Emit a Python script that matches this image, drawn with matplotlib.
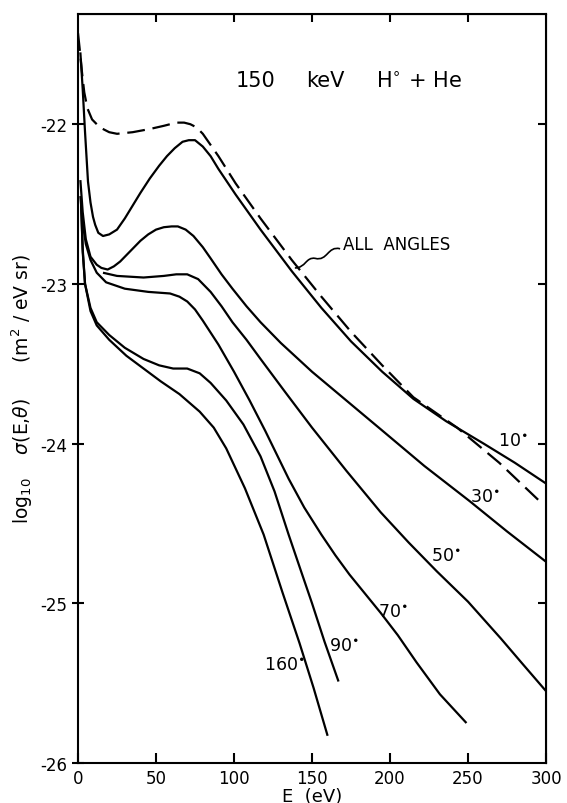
import matplotlib.pyplot as plt
from matplotlib.path import Path
from matplotlib.patches import PathPatch

# 讀圖估計的數值 (E in eV, log10 sigma)
e_all = [0, 1.3, 2.6, 4, 6, 9, 14, 20, 25, 35, 46, 55, 63, 68, 72, 76, 80, 85, 90, 101, 117, 137,
         156, 175, 195, 215, 243, 270, 298]
s_all = [-21.43, -21.55, -21.68, -21.8, -21.9, -21.97, -22.02, -22.05, -22.06, -22.05, -22.03, -22.01,
         -21.99, -21.99, -22.0, -22.02, -22.06, -22.13, -22.2, -22.37, -22.59, -22.85,
         -23.08, -23.3, -23.51, -23.71, -23.9, -24.12, -24.38]

e_10 = [1.5, 3, 4.5, 6.4, 8, 9.6, 11, 13, 16, 20, 25, 30, 35, 40, 46, 52, 57, 62, 67, 71, 75, 80, 85,
        90, 101, 117, 137, 156, 175, 195, 215, 236, 260, 280, 300]
s_10 = [-21.55, -21.78, -22.05, -22.36, -22.49, -22.58, -22.63, -22.68, -22.70, -22.69, -22.66, -22.59,
        -22.51, -22.43, -22.34, -22.26, -22.2, -22.15, -22.11, -22.10, -22.10, -22.14, -22.2,
        -22.28, -22.44, -22.66, -22.92, -23.15, -23.36, -23.55, -23.72, -23.86, -24.0, -24.12, -24.25]

e_30 = [1.5, 3, 5, 8, 12, 15, 19, 23, 27, 31, 35, 40, 45, 50, 55, 60, 64, 69, 74, 80, 85, 92, 99,
        108, 117, 130, 150, 172, 194, 222, 251, 275, 300]
s_30 = [-22.35, -22.55, -22.72, -22.83, -22.88, -22.9, -22.91, -22.89, -22.86, -22.82, -22.78, -22.73,
        -22.69, -22.66, -22.645, -22.64, -22.64, -22.66, -22.70, -22.77, -22.84, -22.94, -23.03,
        -23.14, -23.24, -23.37, -23.55, -23.73, -23.91, -24.14, -24.36, -24.55, -24.74]

e_50 = [16, 25, 42, 55, 63, 70, 77, 85, 92, 99, 108, 117, 133, 150, 172, 194, 212, 230, 250, 271,
        285, 300]
s_50 = [-22.93, -22.95, -22.96, -22.95, -22.94, -22.94, -22.97, -23.05, -23.14, -23.24, -23.35,
        -23.47, -23.68, -23.9, -24.17, -24.43, -24.62, -24.8, -24.99, -25.22, -25.38, -25.55]

e_70 = [1.5, 3, 5, 8, 12, 18, 30, 45, 59, 65, 70, 75, 80, 90, 100, 110, 120, 135, 145, 156, 165,
        174, 184, 194, 205, 217, 232, 249]
s_70 = [-22.45, -22.62, -22.75, -22.85, -22.93, -22.99, -23.03, -23.05, -23.06, -23.08, -23.11,
        -23.16, -23.23, -23.38, -23.55, -23.73, -23.92, -24.22, -24.4, -24.57, -24.7,
        -24.82, -24.94, -25.06, -25.2, -25.37, -25.57, -25.75]

e_90 = [2, 3, 4.5, 8, 12, 20, 30, 42, 52, 61, 70, 78, 85, 95, 106, 117, 126, 135, 143, 150, 158, 167]
s_90 = [-22.5, -22.78, -23.0, -23.15, -23.24, -23.32, -23.4, -23.47, -23.51, -23.53, -23.53,
        -23.56, -23.62, -23.73, -23.88, -24.08, -24.3, -24.57, -24.8, -25.0, -25.24, -25.49]

e_160 = [2, 3, 4.5, 8, 12, 20, 31, 42, 53, 65, 78, 87, 95, 107, 119, 131, 142, 151, 160]
s_160 = [-22.5, -22.8, -23.0, -23.17, -23.26, -23.35, -23.45, -23.53, -23.61, -23.69, -23.8,
         -23.9, -24.03, -24.28, -24.57, -24.93, -25.25, -25.53, -25.83]

labels = ['10', '30', '50', '70', '90', '160']
label_x = [269, 251, 226, 192, 161, 119]
label_y = [-23.98, -24.33, -24.7, -25.05, -25.26, -25.38]

fig = plt.figure(figsize=(5.67, 8.04), dpi=100)
ax = fig.add_axes([0.1376, 0.0498, 0.8254, 0.9315])

lw = 1.6
ax.plot(e_all, s_all, color='black', linewidth=lw, linestyle=(0, (8, 3.5)))
for e, s in [(e_10, s_10), (e_30, s_30), (e_50, s_50), (e_70, s_70), (e_90, s_90), (e_160, s_160)]:
    ax.plot(e, s, color='black', linewidth=lw, solid_capstyle='butt', solid_joinstyle='round')

for t, x, y in zip(labels, label_x, label_y):
    ax.text(x, y, t + r'$^{\bullet}$', fontsize=12.5, va='center', ha='left')

ax.text(101, -21.72, '150', fontsize=15, va='center', ha='left')
ax.text(146, -21.72, 'keV', fontsize=15, va='center', ha='left')
ax.text(191, -21.72, r'H$^{\circ}$ + He', fontsize=15, va='center', ha='left')

ax.text(170, -22.75, 'ALL  ANGLES', fontsize=12, va='center', ha='left')
# 小小的 S 形引線
verts = [(168, -22.78), (160, -22.76), (160, -22.86), (152, -22.84),
         (146, -22.83), (146, -22.9), (139, -22.9)]
codes = [Path.MOVETO, Path.CURVE4, Path.CURVE4, Path.CURVE4, Path.CURVE4, Path.CURVE4, Path.CURVE4]
ax.add_patch(PathPatch(Path(verts, codes), fill=False, lw=1.2, color='black'))

ax.set_xlim(0, 300)
ax.set_ylim(-26, -21.31)
ax.set_xticks([0, 50, 100, 150, 200, 250, 300])
ax.set_yticks([-26, -25, -24, -23, -22])
ax.set_yticklabels(['-26', '-25', '-24', '-23', '-22'])
ax.tick_params(axis='x', direction='in', length=7, width=1.5, labelsize=12, pad=4)
ax.tick_params(axis='y', direction='inout', length=9, width=1.5, labelsize=12, pad=3)

top = ax.secondary_xaxis('top')
top.set_xticks([50, 100, 150, 200, 250])
top.tick_params(direction='in', length=6, width=1.5)
top.set_xticklabels([])
right = ax.secondary_yaxis('right')
right.set_yticks([-25, -24, -23, -22])
right.tick_params(direction='in', length=6, width=1.5)
right.set_yticklabels([])

for sp in ax.spines.values():
    sp.set_linewidth(1.5)

ax.set_xlabel('E  (eV)', fontsize=13, labelpad=0)
ax.set_ylabel(r'log$_{10}$    $\sigma$(E,$\theta$)      (m$^2$ / eV sr)', fontsize=13.5, labelpad=4)

fig.savefig('out.png', dpi=100)
